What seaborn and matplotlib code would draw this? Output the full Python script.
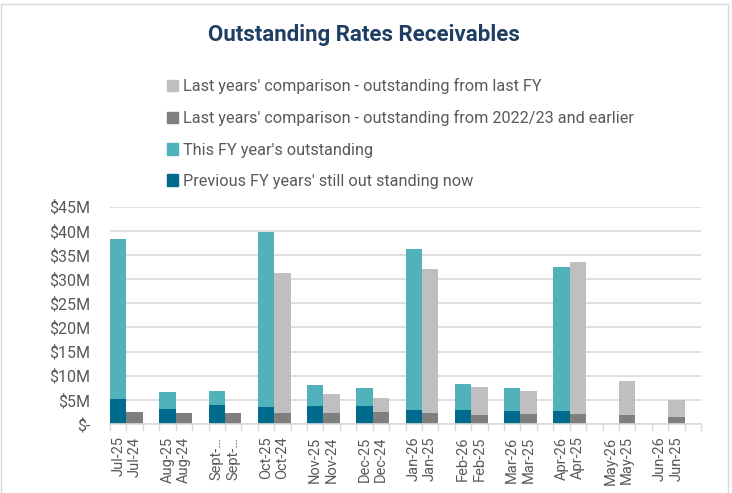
import numpy as np
import pandas as pd
import matplotlib
matplotlib.use("Agg")
import matplotlib.pyplot as plt
from matplotlib.patches import Patch
from matplotlib.lines import Line2D
import seaborn as sns

# month labels (this year / same month last year)
months_this = ["Jul-25", "Aug-25", "Sept-…", "Oct-25", "Nov-25", "Dec-25",
               "Jan-26", "Feb-26", "Mar-26", "Apr-26", "May-26", "Jun-26"]
months_last = ["Jul-24", "Aug-24", "Sept-…", "Oct-24", "Nov-24", "Dec-24",
               "Jan-25", "Feb-25", "Mar-25", "Apr-25", "May-25", "Jun-25"]

# $M
prev_fy_out = [5.2, 3.2, 3.9, 3.6, 3.8, 3.8, 3.0, 2.8, 2.6, 2.6, np.nan, np.nan]
this_fy_out = [33.2, 3.4, 2.9, 36.2, 4.2, 3.7, 33.3, 5.5, 4.9, 30.0, np.nan, np.nan]
last_old_out = [2.4, 2.2, 2.2, 2.3, 2.3, 2.5, 2.3, 1.9, 2.1, 2.0, 1.9, 1.5]
last_fy_out = [0.0, 0.0, 0.0, 28.9, 4.0, 2.9, 29.9, 5.8, 4.8, 31.5, 7.1, 3.5]

yticks = [0, 5, 10, 15, 20, 25, 30, 35, 40, 45]
ytick_labels = ["$-", "$5M", "$10M", "$15M", "$20M", "$25M", "$30M", "$35M", "$40M", "$45M"]

c_light_grey = "#BFBFBF"
c_dark_grey = "#7F7F7F"
c_light_teal = "#52B2BC"
c_dark_teal = "#006B8C"
txt = "#595959"

sns.set_theme(style="white")
plt.rcParams["font.family"] = ["Roboto", "DejaVu Sans"]

grp = np.arange(len(months_this))
df = pd.DataFrame({
    "pos_this": grp - 1/6,
    "pos_last": grp + 1/6,
    "prev_fy": prev_fy_out,
    "this_total": np.array(prev_fy_out) + np.array(this_fy_out),
    "last_old": last_old_out,
    "last_total": np.array(last_old_out) + np.array(last_fy_out),
})

fig = plt.figure(figsize=(7.32, 4.93), dpi=100)
ax = fig.add_axes([110/732, 1 - 424/493, 591/732, (424 - 206.7)/493])

this_df = df.dropna(subset=["this_total"])
kw = dict(native_scale=True, errorbar=None, saturation=1, width=1/3, linewidth=0, ax=ax)
sns.barplot(data=this_df, x="pos_this", y="this_total", color=c_light_teal, **kw)
sns.barplot(data=this_df, x="pos_this", y="prev_fy", color=c_dark_teal, **kw)
sns.barplot(data=df, x="pos_last", y="last_total", color=c_light_grey, **kw)
sns.barplot(data=df, x="pos_last", y="last_old", color=c_dark_grey, **kw)

ax.set_xlim(-1/3, len(grp) - 1/3)
ax.set_ylim(0, 45)
ax.set_yticks(yticks)
ax.set_yticklabels(ytick_labels)
ax.grid(axis="y", color="#D9D9D9", linewidth=1.2)
ax.set_axisbelow(True)

ax.set_xticks(np.concatenate([df["pos_this"], df["pos_last"]]))
ax.set_xticklabels(months_this + months_last, rotation=90, va="top", ha="center")
ax.set_xticks(np.arange(-1/3, len(grp) - 1/3 + 0.01, 1/3), minor=True)
ax.tick_params(axis="x", which="major", length=0, pad=9, labelsize=10.5, labelcolor=txt)
ax.tick_params(axis="x", which="minor", length=5, color="#D9D9D9", width=1, bottom=True)
ax.tick_params(axis="y", length=0, pad=14, labelsize=11.5, labelcolor=txt)
ax.set_xlabel("")
ax.set_ylabel("")
for s in ["top", "right", "left"]:
    ax.spines[s].set_visible(False)
ax.spines["bottom"].set_color("#D9D9D9")
ax.spines["bottom"].set_linewidth(1.2)

fig.text(0.497, 1 - 35/493, "Outstanding Rates Receivables", ha="center", va="center",
         fontsize=16, fontweight="bold", color="#1F3E64")

handles = [Patch(color=c_light_grey), Patch(color=c_dark_grey),
           Patch(color=c_light_teal), Patch(color=c_dark_teal)]
labels = ["Last years' comparison - outstanding from last FY",
          "Last years' comparison - outstanding from 2022/23 and earlier",
          "This FY year's outstanding",
          "Previous FY years' still out standing now"]
fig.legend(handles, labels, loc="upper left", bbox_to_anchor=(167/732, 1 - 78/493),
           frameon=False, fontsize=11.7, labelcolor=txt, handlelength=0.7, handleheight=0.7,
           handletextpad=0.3, labelspacing=1.0, borderaxespad=0, borderpad=0)

# chart border
bc = "#D9D9D9"
fig.add_artist(Line2D([1/732, 728/732], [1 - 4/493, 1 - 4/493], color=bc, lw=1, transform=fig.transFigure))
fig.add_artist(Line2D([1/732, 1/732], [0, 1 - 4/493], color=bc, lw=1, transform=fig.transFigure))
fig.add_artist(Line2D([728/732, 728/732], [0, 1 - 4/493], color=bc, lw=1, transform=fig.transFigure))

fig.savefig("out.png", dpi=100, facecolor="white")
